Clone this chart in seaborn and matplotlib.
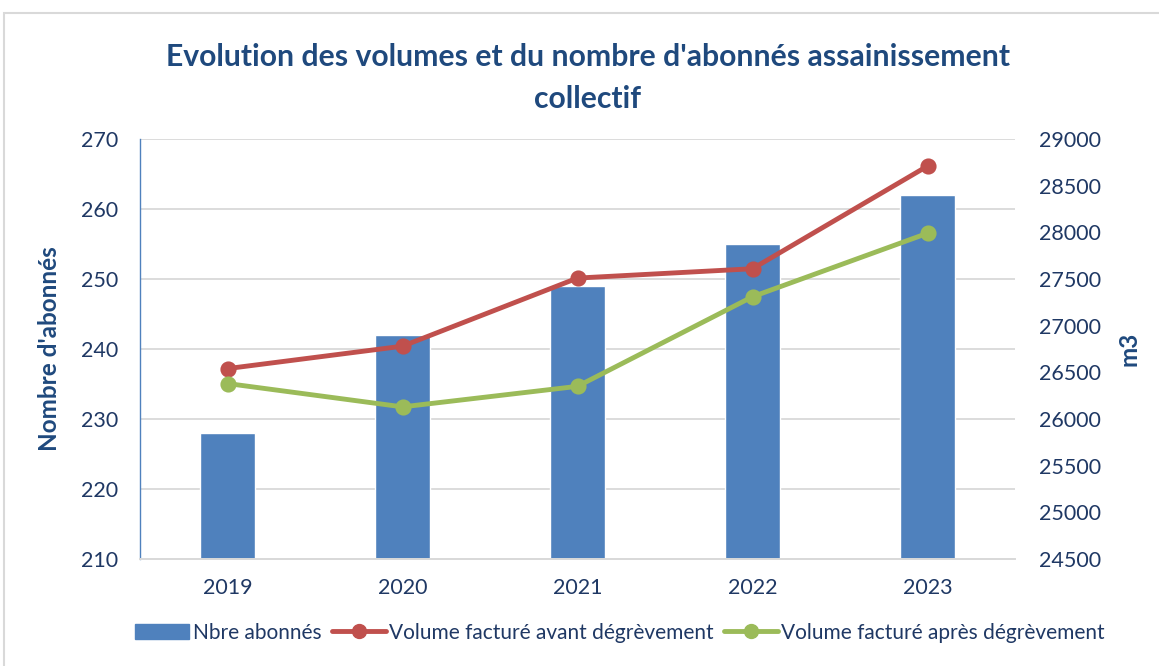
import numpy as np
import pandas as pd
import matplotlib
matplotlib.use("Agg")
import matplotlib.pyplot as plt
import seaborn as sns
from matplotlib.patches import Rectangle
from matplotlib.lines import Line2D

# --- data ---
years = ["2019", "2020", "2021", "2022", "2023"]
abonnes = [228, 242, 249, 255, 262]
vol_avant = [26540, 26780, 27510, 27610, 28710]
vol_apres = [26380, 26130, 26350, 27310, 27990]

bar_color = "#4F81BD"
red = "#C0504D"
green = "#9BBB59"
text_blue = "#1F3864"
title_blue = "#1F497D"

sns.set_style("white")
plt.rcParams["font.family"] = ["Lato", "DejaVu Sans"]

fig = plt.figure(figsize=(11.59, 6.66), dpi=100)
ax = fig.add_axes([140 / 1159, 1 - 559 / 666, 875 / 1159, 420 / 666])
ax2 = ax.twinx()

df = pd.DataFrame({"year": years, "abonnes": abonnes,
                   "avant": vol_avant, "apres": vol_apres})

sns.barplot(data=df, x="year", y="abonnes", ax=ax, color=bar_color,
            width=0.31, saturation=1)
sns.pointplot(data=df, x="year", y="avant", ax=ax2, color=red,
              markers="o", markersize=9, linewidth=3.5)
sns.pointplot(data=df, x="year", y="apres", ax=ax2, color=green,
              markers="o", markersize=9, linewidth=3.5)

ax.set_xlim(-0.5, 4.5)
ax.set_ylim(210, 270)
ax.set_yticks(np.arange(210, 271, 10))
ax2.set_ylim(24500, 29000)
ax2.set_yticks(np.arange(24500, 29001, 500))

ax.yaxis.grid(True, color="#D9D9D9", linewidth=1.3)
ax.set_axisbelow(True)
ax2.grid(False)

for a in (ax, ax2):
    for s in ("top", "right", "left"):
        a.spines[s].set_visible(False)
    a.spines["bottom"].set_color("#D9D9D9")
    a.spines["bottom"].set_linewidth(1.3)
ax.spines["left"].set_visible(True)
ax.spines["left"].set_color("#4F81BD")
ax.spines["left"].set_linewidth(1)

ax.tick_params(axis="y", length=0, labelsize=15.5, labelcolor=text_blue, pad=16)
ax2.tick_params(axis="y", length=0, labelsize=15.5, labelcolor=text_blue, pad=17)
ax.tick_params(axis="x", length=0, labelsize=15.5, labelcolor=text_blue, pad=14)

ax.set_xlabel("")
ax.set_ylabel("Nombre d'abonnés", fontsize=17.5, fontweight="bold", color=title_blue, labelpad=14)
ax2.set_ylabel("m3", fontsize=17.5, fontweight="bold", color=title_blue, labelpad=12)

fig.suptitle("Evolution des volumes et du nombre d'abonnés assainissement\ncollectif",
             x=0.507, y=0.935, fontsize=21.7, fontweight="bold", color=title_blue,
             linespacing=1.6)

handles = [
    Rectangle((0, 0), 1, 1, color=bar_color),
    Line2D([], [], color=red, lw=3.5, marker="o", markersize=10),
    Line2D([], [], color=green, lw=3.5, marker="o", markersize=10),
]
labels = ["Nbre abonnés", "Volume facturé avant dégrèvement",
          "Volume facturé après dégrèvement"]
leg = fig.legend(handles, labels, loc="center", bbox_to_anchor=(0.535, 0.05),
                 ncol=3, frameon=False, fontsize=15, handlelength=2.6,
                 handletextpad=0.15, columnspacing=0.5)
for t in leg.get_texts():
    t.set_color(text_blue)

# chart frame
fig.patches.append(Rectangle((4 / 1159, -0.02), 1.05, 1 - 13 / 666 + 0.02,
                             transform=fig.transFigure, fill=False,
                             edgecolor="#D9D9D9", linewidth=1.5))

fig.savefig("out.png", dpi=100)
